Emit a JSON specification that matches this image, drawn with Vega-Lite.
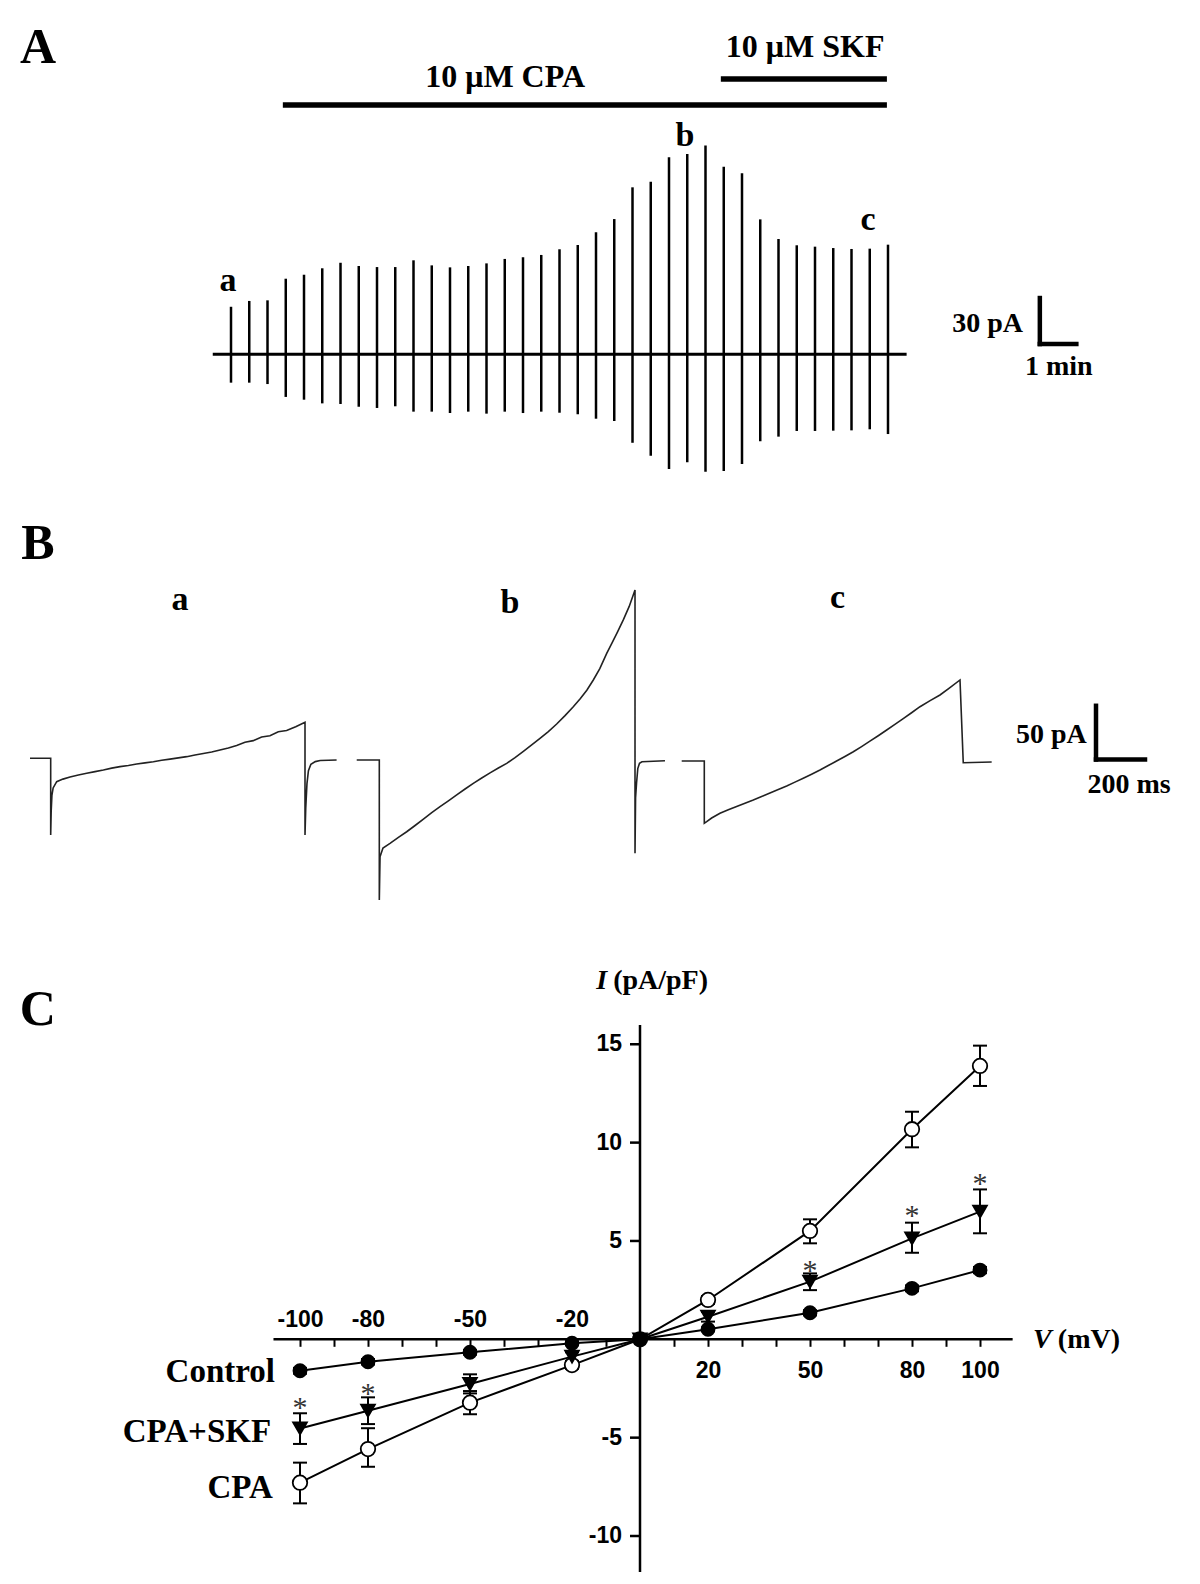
{
"$schema": "https://vega.github.io/schema/vega-lite/v6.json",
"width": 1200, "height": 1584, "padding": 0, "autosize": {"type": "none"},
"background": "white",
"config": {"view": {"stroke": null}, "axis": {"grid": false}},
"resolve": {"scale": {"x": "independent", "y": "independent"}},
"layer": [
 {
  "layer": [
   {"data": {"values": [
     {"t":0,"up":31.0,"down":-18.5},{"t":0.5,"up":34.8,"down":-18.5},{"t":1.0,"up":35.2,"down":-19.4},
     {"t":1.5,"up":49.3,"down":-27.8},{"t":2.0,"up":51.9,"down":-29.6},{"t":2.5,"up":56.1,"down":-32.0},
     {"t":3.0,"up":59.7,"down":-32.4},{"t":3.5,"up":57.6,"down":-34.2},{"t":4.0,"up":56.9,"down":-35.0},
     {"t":4.5,"up":56.9,"down":-33.9},{"t":5.0,"up":61.3,"down":-37.4},{"t":5.5,"up":58.0,"down":-37.4},
     {"t":6.0,"up":56.7,"down":-38.3},{"t":6.5,"up":57.6,"down":-37.4},{"t":7.0,"up":59.3,"down":-38.7},
     {"t":7.5,"up":62.2,"down":-37.4},{"t":8.0,"up":63.3,"down":-38.3},{"t":8.5,"up":64.8,"down":-37.4},
     {"t":9.0,"up":68.5,"down":-38.1},{"t":9.5,"up":71.3,"down":-39.1},{"t":10.0,"up":79.6,"down":-42.0},
     {"t":10.5,"up":88.2,"down":-43.5},{"t":11.0,"up":108.9,"down":-57.7},{"t":11.5,"up":112.6,"down":-66.1},
     {"t":12.0,"up":128.5,"down":-74.8},{"t":12.5,"up":130.6,"down":-70.4},{"t":13.0,"up":136.1,"down":-76.6},
     {"t":13.5,"up":122.4,"down":-76.1},{"t":14.0,"up":118.0,"down":-71.5},{"t":14.5,"up":88.0,"down":-56.7},
     {"t":15.0,"up":75.2,"down":-53.7},{"t":15.5,"up":71.1,"down":-50.0},{"t":16.0,"up":70.2,"down":-50.0},
     {"t":16.5,"up":69.3,"down":-49.8},{"t":17.0,"up":68.7,"down":-49.6},{"t":17.5,"up":68.9,"down":-48.9},
     {"t":18.0,"up":71.5,"down":-52.0}]},
    "mark": {"type": "rule", "color": "black", "strokeWidth": 2.5},
    "encoding": {
     "x": {"field": "t", "type": "quantitative", "scale": {"domain": [-6.329, 26.548], "nice": false, "zero": false}, "axis": null},
     "y": {"field": "up", "type": "quantitative", "scale": {"domain": [-801.98, 231.07], "nice": false, "zero": false}, "axis": null},
     "y2": {"field": "down"}}},
   {"data": {"values": [{"t1": -0.5, "t2": 18.51, "i": 0}]},
    "mark": {"type": "rule", "color": "black", "strokeWidth": 3},
    "encoding": {"x": {"field": "t1", "type": "quantitative", "axis": null}, "x2": {"field": "t2"},
                 "y": {"field": "i", "type": "quantitative", "axis": null}}},
   {"data": {"values": [{"drug": "CPA", "t1": 1.42, "t2": 17.97, "i": 162.6}, {"drug": "SKF", "t1": 13.42, "t2": 17.97, "i": 179.5}]},
    "mark": {"type": "rule", "color": "black", "strokeWidth": 5.5},
    "encoding": {"x": {"field": "t1", "type": "quantitative", "axis": null}, "x2": {"field": "t2"},
                 "y": {"field": "i", "type": "quantitative", "axis": null}}},
   {"data": {"values": [{"x1": 22.16, "x2": 22.16, "y1": 6.7, "y2": 36.7}, {"x1": 22.16, "x2": 23.16, "y1": 6.7, "y2": 6.7}]},
    "mark": {"type": "rule", "color": "black", "strokeWidth": 4.5, "strokeCap": "square"},
    "encoding": {"x": {"field": "x1", "type": "quantitative", "axis": null}, "x2": {"field": "x2"},
                 "y": {"field": "y1", "type": "quantitative", "axis": null}, "y2": {"field": "y2"}}},
   {"data": {"values": [{"txt": "A", "t": -5.29, "i": 190.2}]},
    "mark": {"type": "text", "font": "Liberation Serif", "fontWeight": "bold", "fontSize": 50, "align": "center", "baseline": "alphabetic", "color": "black"},
    "encoding": {"x": {"field": "t", "type": "quantitative", "axis": null}, "y": {"field": "i", "type": "quantitative", "axis": null}, "text": {"field": "txt"}}},
   {"data": {"values": [{"txt": "a", "t": -0.08, "i": 41.3}, {"txt": "b", "t": 12.44, "i": 135.8}, {"txt": "c", "t": 17.45, "i": 81.1}]},
    "mark": {"type": "text", "font": "Liberation Serif", "fontWeight": "bold", "fontSize": 34, "align": "center", "baseline": "alphabetic", "color": "black"},
    "encoding": {"x": {"field": "t", "type": "quantitative", "axis": null}, "y": {"field": "i", "type": "quantitative", "axis": null}, "text": {"field": "txt"}}},
   {"data": {"values": [{"txt": "10 μM CPA", "t": 7.51, "i": 174.3}, {"txt": "10 μM SKF", "t": 15.73, "i": 194.2}]},
    "mark": {"type": "text", "font": "Liberation Serif", "fontWeight": "bold", "fontSize": 32, "align": "center", "baseline": "alphabetic", "color": "black"},
    "encoding": {"x": {"field": "t", "type": "quantitative", "axis": null}, "y": {"field": "i", "type": "quantitative", "axis": null}, "text": {"field": "txt"}}},
   {"data": {"values": [{"txt": "30 pA", "t": 21.70, "i": 14.7}]},
    "mark": {"type": "text", "font": "Liberation Serif", "fontWeight": "bold", "fontSize": 28, "align": "right", "baseline": "alphabetic", "color": "black"},
    "encoding": {"x": {"field": "t", "type": "quantitative", "axis": null}, "y": {"field": "i", "type": "quantitative", "axis": null}, "text": {"field": "txt"}}},
   {"data": {"values": [{"txt": "1 min", "t": 22.68, "i": -13.5}]},
    "mark": {"type": "text", "font": "Liberation Serif", "fontWeight": "bold", "fontSize": 28, "align": "center", "baseline": "alphabetic", "color": "black"},
    "encoding": {"x": {"field": "t", "type": "quantitative", "axis": null}, "y": {"field": "i", "type": "quantitative", "axis": null}, "text": {"field": "txt"}}}
  ]
 },
 {
  "layer": [
   {"data": {"values": [
     {"k":0,"t":-84.5,"i":1.6},{"k":1,"t":0,"i":1.6},{"k":2,"t":0,"i":-69.8},{"k":3,"t":2,"i":-48},{"k":4,"t":5,"i":-33},
     {"k":5,"t":10,"i":-26},{"k":6,"t":24.5,"i":-20.2},{"k":7,"t":50,"i":-17.8},{"k":8,"t":79,"i":-15.8},{"k":9,"t":113,"i":-14},
     {"k":10,"t":147,"i":-12.4},{"k":11,"t":181,"i":-10.8},{"k":12,"t":215,"i":-9.3},{"k":13,"t":249,"i":-7.6},{"k":14,"t":283,"i":-6.2},
     {"k":15,"t":317,"i":-5.1},{"k":16,"t":351,"i":-3.8},{"k":17,"t":385,"i":-2.7},{"k":18,"t":419,"i":-1.6},{"k":19,"t":453,"i":-0.3},
     {"k":20,"t":487,"i":0.8},{"k":21,"t":521,"i":2},{"k":22,"t":555,"i":3.1},{"k":23,"t":589,"i":4.6},{"k":24,"t":623,"i":6},
     {"k":25,"t":657,"i":7.5},{"k":26,"t":691,"i":9.3},{"k":27,"t":725,"i":11.2},{"k":28,"t":759,"i":13.5},{"k":29,"t":793,"i":16.6},
     {"k":30,"t":827,"i":18.0},{"k":31,"t":861,"i":21.4},{"k":32,"t":895,"i":22.6},{"k":33,"t":929,"i":26.3},{"k":34,"t":963,"i":27.4},
     {"k":35,"t":1000,"i":31},{"k":36,"t":1038,"i":35.1},{"k":37,"t":1038,"i":-69.8},{"k":38,"t":1041,"i":-45},{"k":39,"t":1046,"i":-22},
     {"k":40,"t":1052,"i":-10},{"k":41,"t":1062,"i":-4},{"k":42,"t":1080,"i":-1.5},{"k":43,"t":1100,"i":-0.5},{"k":44,"t":1167,"i":0}]},
    "mark": {"type": "line", "color": "#222", "strokeWidth": 1.6},
    "encoding": {
     "x": {"field": "t", "type": "quantitative", "scale": {"domain": [-206.9, 4691.0], "nice": false, "zero": false}, "axis": null},
     "y": {"field": "i", "type": "quantitative", "scale": {"domain": [-767.2, 707.6], "nice": false, "zero": false}, "axis": null},
     "order": {"field": "k"}}},
   {"data": {"values": [{"txt": "a", "t": 528, "i": 139.7}]},
    "mark": {"type": "text", "font": "Liberation Serif", "fontWeight": "bold", "fontSize": 34, "align": "center", "baseline": "alphabetic", "color": "black"},
    "encoding": {"x": {"field": "t", "type": "quantitative", "axis": null}, "y": {"field": "i", "type": "quantitative", "axis": null}, "text": {"field": "txt"}}},
   {"data": {"values": [{"txt": "B", "t": -51.8, "i": 187.5}]},
    "mark": {"type": "text", "font": "Liberation Serif", "fontWeight": "bold", "fontSize": 50, "align": "center", "baseline": "alphabetic", "color": "black"},
    "encoding": {"x": {"field": "t", "type": "quantitative", "axis": null}, "y": {"field": "i", "type": "quantitative", "axis": null}, "text": {"field": "txt"}}}
  ]
 },
 {
  "layer": [
   {"data": {"values": [
     {"k":0,"t":-92.2,"i":0},{"k":1,"t":0,"i":0},{"k":2,"t":0,"i":-130.4},{"k":3,"t":3,"i":-90},{"k":4,"t":15,"i":-81.9},
     {"k":5,"t":43.7,"i":-77.6},{"k":6,"t":78,"i":-72},{"k":7,"t":111.8,"i":-66.8},{"k":8,"t":146,"i":-61},{"k":9,"t":180,"i":-55},
     {"k":10,"t":214,"i":-49},{"k":11,"t":247.8,"i":-43.5},{"k":12,"t":282,"i":-38},{"k":13,"t":316,"i":-32.5},{"k":14,"t":350,"i":-27},
     {"k":15,"t":383.7,"i":-21.7},{"k":16,"t":418,"i":-16.8},{"k":17,"t":452,"i":-12},{"k":18,"t":486,"i":-7.5},{"k":19,"t":520,"i":-3.1},
     {"k":20,"t":554,"i":2.2},{"k":21,"t":588,"i":8},{"k":22,"t":622,"i":14},{"k":23,"t":655.9,"i":20.2},{"k":24,"t":690,"i":26.5},
     {"k":25,"t":724,"i":33.5},{"k":26,"t":758,"i":41.3},{"k":27,"t":791.8,"i":49.6},{"k":28,"t":820,"i":57},{"k":29,"t":847,"i":65},
     {"k":30,"t":873.5,"i":74.5},{"k":31,"t":900,"i":85},{"k":32,"t":928.2,"i":99.3},{"k":33,"t":950,"i":109},{"k":34,"t":972,"i":119},
     {"k":35,"t":995.9,"i":130.4},{"k":36,"t":1020,"i":143},{"k":37,"t":1043.7,"i":158.3},{"k":38,"t":1043.7,"i":-86.9},{"k":39,"t":1046,"i":-35},
     {"k":40,"t":1050,"i":-21.4},{"k":41,"t":1055,"i":-8},{"k":42,"t":1062,"i":-3},{"k":43,"t":1072,"i":-1.6},{"k":44,"t":1166,"i":-0.7}]},
    "mark": {"type": "line", "color": "#222", "strokeWidth": 1.6},
    "encoding": {
     "x": {"field": "t", "type": "quantitative", "scale": {"domain": [-1548.2, 3349.8], "nice": false, "zero": false}, "axis": null},
     "y": {"field": "i", "type": "quantitative", "scale": {"domain": [-767.2, 707.6], "nice": false, "zero": false}, "axis": null},
     "order": {"field": "k"}}},
   {"data": {"values": [{"txt": "b", "t": 533, "i": 137.2}]},
    "mark": {"type": "text", "font": "Liberation Serif", "fontWeight": "bold", "fontSize": 34, "align": "center", "baseline": "alphabetic", "color": "black"},
    "encoding": {"x": {"field": "t", "type": "quantitative", "axis": null}, "y": {"field": "i", "type": "quantitative", "axis": null}, "text": {"field": "txt"}}}
  ]
 },
 {
  "layer": [
   {"data": {"values": [
     {"k":0,"t":-92.2,"i":-0.9},{"k":1,"t":0,"i":-0.9},{"k":2,"t":0,"i":-58.9},{"k":3,"t":9.8,"i":-57.4},{"k":4,"t":30,"i":-54},
     {"k":5,"t":64.1,"i":-49.6},{"k":6,"t":98,"i":-46.4},{"k":7,"t":132,"i":-43.3},{"k":8,"t":166,"i":-40.2},{"k":9,"t":200,"i":-37.2},
     {"k":10,"t":234,"i":-34},{"k":11,"t":268,"i":-30.7},{"k":12,"t":302,"i":-27.5},{"k":13,"t":336.3,"i":-24.2},{"k":14,"t":370,"i":-20.6},
     {"k":15,"t":404,"i":-17},{"k":16,"t":438,"i":-13.2},{"k":17,"t":472.2,"i":-9.3},{"k":18,"t":506,"i":-5.2},{"k":19,"t":540,"i":-1},
     {"k":20,"t":574,"i":3.3},{"k":21,"t":608.2,"i":7.7},{"k":22,"t":642,"i":12.5},{"k":23,"t":676,"i":17.5},{"k":24,"t":710,"i":22.6},
     {"k":25,"t":744.5,"i":27.9},{"k":26,"t":778,"i":33.1},{"k":27,"t":812,"i":38.5},{"k":28,"t":846,"i":44},{"k":29,"t":880.4,"i":49.6},
     {"k":30,"t":920,"i":55},{"k":31,"t":962,"i":60.5},{"k":32,"t":1000,"i":67},{"k":33,"t":1043.7,"i":74.5},{"k":34,"t":1057,"i":-2.5},
     {"k":35,"t":1173,"i":-1.9}]},
    "mark": {"type": "line", "color": "#222", "strokeWidth": 1.6},
    "encoding": {
     "x": {"field": "t", "type": "quantitative", "scale": {"domain": [-2874.7, 2023.3], "nice": false, "zero": false}, "axis": null},
     "y": {"field": "i", "type": "quantitative", "scale": {"domain": [-767.2, 707.6], "nice": false, "zero": false}, "axis": null},
     "order": {"field": "k"}}},
   {"data": {"values": [{"x1": 1598.8, "x2": 1598.8, "y1": 0.47, "y2": 50.47}, {"x1": 1598.8, "x2": 1798.8, "y1": 0.47, "y2": 0.47}]},
    "mark": {"type": "rule", "color": "black", "strokeWidth": 4.5, "strokeCap": "square"},
    "encoding": {"x": {"field": "x1", "type": "quantitative", "axis": null}, "x2": {"field": "x2"},
                 "y": {"field": "y1", "type": "quantitative", "axis": null}, "y2": {"field": "y2"}}},
   {"data": {"values": [{"txt": "c", "t": 543.7, "i": 141.2}]},
    "mark": {"type": "text", "font": "Liberation Serif", "fontWeight": "bold", "fontSize": 34, "align": "center", "baseline": "alphabetic", "color": "black"},
    "encoding": {"x": {"field": "t", "type": "quantitative", "axis": null}, "y": {"field": "i", "type": "quantitative", "axis": null}, "text": {"field": "txt"}}},
   {"data": {"values": [{"txt": "50 pA", "t": 1560.8, "i": 15.5}]},
    "mark": {"type": "text", "font": "Liberation Serif", "fontWeight": "bold", "fontSize": 28, "align": "right", "baseline": "alphabetic", "color": "black"},
    "encoding": {"x": {"field": "t", "type": "quantitative", "axis": null}, "y": {"field": "i", "type": "quantitative", "axis": null}, "text": {"field": "txt"}}},
   {"data": {"values": [{"txt": "200 ms", "t": 1733.5, "i": -31.0}]},
    "mark": {"type": "text", "font": "Liberation Serif", "fontWeight": "bold", "fontSize": 28, "align": "center", "baseline": "alphabetic", "color": "black"},
    "encoding": {"x": {"field": "t", "type": "quantitative", "axis": null}, "y": {"field": "i", "type": "quantitative", "axis": null}, "text": {"field": "txt"}}}
  ]
 },
 {
  "layer": [
   {"data": {"values": [{"x1": -107.8, "x2": 109.6, "y1": 0, "y2": 0}, {"x1": 0, "x2": 0, "y1": -11.83, "y2": 15.98}]},
    "mark": {"type": "rule", "color": "black", "strokeWidth": 2.5},
    "encoding": {
     "x": {"field": "x1", "type": "quantitative", "scale": {"domain": [-188.235, 164.706], "nice": false, "zero": false},
           "axis": {"orient": "top", "offset": -1339.3, "values": [-100, -80, -50, -20], "domain": false, "ticks": false, "tickSize": 0,
                    "labelExpr": "'-' + abs(datum.value)", "labelFont": "Liberation Sans", "labelFontWeight": "bold", "labelFontSize": 23,
                    "labelColor": "black", "labelPadding": 8, "labelOverlap": false, "labelFlush": false, "title": null, "grid": false}},
     "x2": {"field": "x2"},
     "y": {"field": "y1", "type": "quantitative", "scale": {"domain": [-12.44, 68.09], "nice": false, "zero": false}, "axis": null},
     "y2": {"field": "y2"}}},
   {"data": {"values": [{"v": 0, "i": 15, "lab": "15"}, {"v": 0, "i": 10, "lab": "10"}, {"v": 0, "i": 5, "lab": "5"}, {"v": 0, "i": -5, "lab": "-5"}, {"v": 0, "i": -10, "lab": "-10"}]},
    "mark": {"type": "tick", "orient": "horizontal", "color": "black", "size": 10, "thickness": 2.5, "xOffset": -5, "opacity": 1},
    "encoding": {"x": {"field": "v", "type": "quantitative", "axis": null}, "y": {"field": "i", "type": "quantitative", "axis": null}}},
   {"data": {"values": [{"v": 0, "i": 15, "lab": "15"}, {"v": 0, "i": 10, "lab": "10"}, {"v": 0, "i": 5, "lab": "5"}, {"v": 0, "i": -5, "lab": "-5"}, {"v": 0, "i": -10, "lab": "-10"}]},
    "mark": {"type": "text", "font": "Liberation Sans", "fontWeight": "bold", "fontSize": 23, "align": "right", "baseline": "middle", "dx": -18, "color": "black"},
    "encoding": {"x": {"field": "v", "type": "quantitative", "axis": null}, "y": {"field": "i", "type": "quantitative", "axis": null}, "text": {"field": "lab"}}},
   {"data": {"name": "iv"},
    "mark": {"type": "line", "color": "black", "strokeWidth": 2},
    "encoding": {
     "x": {"field": "v", "type": "quantitative",
           "axis": {"orient": "bottom", "offset": -244.7, "values": [-100, -90, -80, -70, -60, -50, -40, -30, -20, -10, 10, 20, 30, 40, 50, 60, 70, 80, 90, 100],
                    "domain": false, "tickSize": 7, "tickWidth": 2, "tickColor": "black",
                    "labelExpr": "indexof([20, 50, 80, 100], datum.value) >= 0 ? '' + datum.value : ''",
                    "labelFont": "Liberation Sans", "labelFontWeight": "bold", "labelFontSize": 23, "labelColor": "black",
                    "labelPadding": 13, "labelOverlap": false, "labelFlush": false, "title": null, "grid": false}},
     "y": {"field": "i", "type": "quantitative", "axis": null},
     "detail": {"field": "cond"}}},
   {"data": {"name": "iv"},
    "mark": {"type": "rule", "color": "black", "strokeWidth": 2},
    "encoding": {"x": {"field": "v", "type": "quantitative", "axis": null}, "y": {"field": "lo", "type": "quantitative", "axis": null}, "y2": {"field": "hi"}}},
   {"data": {"name": "iv"},
    "mark": {"type": "tick", "orient": "horizontal", "color": "black", "size": 14, "thickness": 2, "opacity": 1},
    "encoding": {"x": {"field": "v", "type": "quantitative", "axis": null}, "y": {"field": "lo", "type": "quantitative", "axis": null}}},
   {"data": {"name": "iv"},
    "mark": {"type": "tick", "orient": "horizontal", "color": "black", "size": 14, "thickness": 2, "opacity": 1},
    "encoding": {"x": {"field": "v", "type": "quantitative", "axis": null}, "y": {"field": "hi", "type": "quantitative", "axis": null}}},
   {"data": {"name": "iv"},
    "mark": {"type": "point", "filled": true, "stroke": "black", "strokeWidth": 1.8, "opacity": 1},
    "encoding": {
     "x": {"field": "v", "type": "quantitative", "axis": null},
     "y": {"field": "i", "type": "quantitative", "axis": null},
     "shape": {"field": "cond", "type": "nominal", "scale": {"domain": ["Control", "CPA+SKF", "CPA"], "range": ["circle", "triangle-down", "circle"]}, "legend": null},
     "fill": {"field": "cond", "type": "nominal", "scale": {"domain": ["Control", "CPA+SKF", "CPA"], "range": ["black", "black", "white"]}, "legend": null},
     "size": {"field": "cond", "type": "nominal", "scale": {"domain": ["Control", "CPA+SKF", "CPA"], "range": [170, 210, 150]}, "legend": null}}},
   {"data": {"values": [{"v": -100, "i": -3.93}, {"v": -80, "i": -3.25}, {"v": 50, "i": 3.01}, {"v": 80, "i": 5.81}, {"v": 100, "i": 7.42}]},
    "mark": {"type": "text", "text": "*", "font": "Liberation Serif", "fontSize": 30, "align": "center", "baseline": "alphabetic", "color": "#333"},
    "encoding": {"x": {"field": "v", "type": "quantitative", "axis": null}, "y": {"field": "i", "type": "quantitative", "axis": null}}},
   {"data": {"values": [{"txt": "Control", "v": -107.35, "i": -2.16}, {"txt": "CPA+SKF", "v": -108.5, "i": -5.21}, {"txt": "CPA", "v": -108, "i": -8.08}]},
    "mark": {"type": "text", "font": "Liberation Serif", "fontWeight": "bold", "fontSize": 33, "align": "right", "baseline": "alphabetic", "color": "black"},
    "encoding": {"x": {"field": "v", "type": "quantitative", "axis": null}, "y": {"field": "i", "type": "quantitative", "axis": null}, "text": {"field": "txt"}}},
   {"data": {"values": [{"txt": "I", "v": -12.9, "i": 17.8}, {"txt": "V", "v": 115.6, "i": -0.46}]},
    "mark": {"type": "text", "font": "Liberation Serif", "fontWeight": "bold", "fontStyle": "italic", "fontSize": 28, "align": "left", "baseline": "alphabetic", "color": "black"},
    "encoding": {"x": {"field": "v", "type": "quantitative", "axis": null}, "y": {"field": "i", "type": "quantitative", "axis": null}, "text": {"field": "txt"}}},
   {"data": {"values": [{"txt": "(pA/pF)", "v": -7.9, "i": 17.8}, {"txt": "(mV)", "v": 122.9, "i": -0.46}]},
    "mark": {"type": "text", "font": "Liberation Serif", "fontWeight": "bold", "fontSize": 28, "align": "left", "baseline": "alphabetic", "color": "black"},
    "encoding": {"x": {"field": "v", "type": "quantitative", "axis": null}, "y": {"field": "i", "type": "quantitative", "axis": null}, "text": {"field": "txt"}}},
   {"data": {"values": [{"txt": "C", "v": -177.1, "i": 15.98}]},
    "mark": {"type": "text", "font": "Liberation Serif", "fontWeight": "bold", "fontSize": 50, "align": "center", "baseline": "alphabetic", "color": "black"},
    "encoding": {"x": {"field": "v", "type": "quantitative", "axis": null}, "y": {"field": "i", "type": "quantitative", "axis": null}, "text": {"field": "txt"}}}
  ]
 }
],
"datasets": {
 "iv": [
  {"cond": "CPA", "v": -100, "i": -7.29, "lo": -8.34, "hi": -6.27},
  {"cond": "CPA", "v": -80, "i": -5.58, "lo": -6.48, "hi": -4.52},
  {"cond": "CPA", "v": -50, "i": -3.22, "lo": -3.81, "hi": -2.63},
  {"cond": "CPA", "v": -20, "i": -1.31, "lo": -1.5, "hi": -1.1},
  {"cond": "CPA", "v": 0, "i": 0, "lo": 0, "hi": 0},
  {"cond": "CPA", "v": 20, "i": 2.0, "lo": 1.8, "hi": 2.2},
  {"cond": "CPA", "v": 50, "i": 5.51, "lo": 4.88, "hi": 6.1},
  {"cond": "CPA", "v": 80, "i": 10.68, "lo": 9.76, "hi": 11.57},
  {"cond": "CPA", "v": 100, "i": 13.9, "lo": 12.88, "hi": 14.93},
  {"cond": "CPA+SKF", "v": -100, "i": -4.53, "lo": -5.32, "hi": -3.76},
  {"cond": "CPA+SKF", "v": -80, "i": -3.63, "lo": -4.31, "hi": -2.95},
  {"cond": "CPA+SKF", "v": -50, "i": -2.27, "lo": -2.75, "hi": -1.78},
  {"cond": "CPA+SKF", "v": -20, "i": -0.88, "lo": -1.1, "hi": -0.66},
  {"cond": "CPA+SKF", "v": 0, "i": 0, "lo": 0, "hi": 0},
  {"cond": "CPA+SKF", "v": 20, "i": 1.15, "lo": 0.9, "hi": 1.4},
  {"cond": "CPA+SKF", "v": 50, "i": 2.93, "lo": 2.5, "hi": 3.35},
  {"cond": "CPA+SKF", "v": 80, "i": 5.13, "lo": 4.4, "hi": 5.93},
  {"cond": "CPA+SKF", "v": 100, "i": 6.49, "lo": 5.39, "hi": 7.62},
  {"cond": "Control", "v": -100, "i": -1.6, "lo": -1.75, "hi": -1.45},
  {"cond": "Control", "v": -80, "i": -1.14, "lo": -1.28, "hi": -1.0},
  {"cond": "Control", "v": -50, "i": -0.66, "lo": -0.78, "hi": -0.54},
  {"cond": "Control", "v": -20, "i": -0.2, "lo": -0.3, "hi": -0.1},
  {"cond": "Control", "v": 0, "i": 0, "lo": 0, "hi": 0},
  {"cond": "Control", "v": 20, "i": 0.51, "lo": 0.41, "hi": 0.61},
  {"cond": "Control", "v": 50, "i": 1.35, "lo": 1.22, "hi": 1.48},
  {"cond": "Control", "v": 80, "i": 2.59, "lo": 2.44, "hi": 2.74},
  {"cond": "Control", "v": 100, "i": 3.52, "lo": 3.36, "hi": 3.68}
 ]
}
}
